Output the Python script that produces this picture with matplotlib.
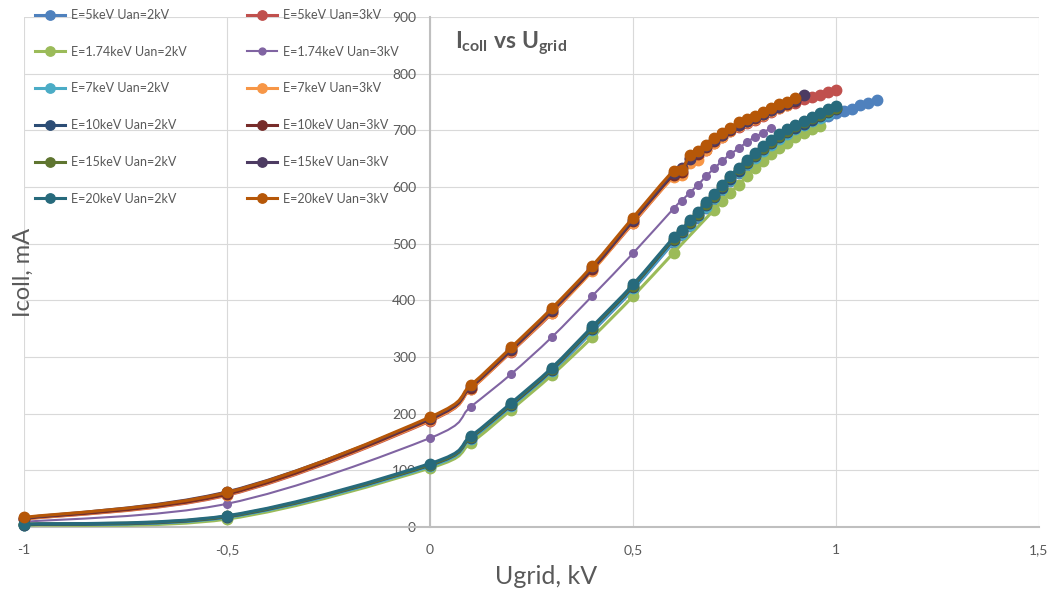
import numpy as np
import matplotlib

matplotlib.use("Agg")
import matplotlib.pyplot as plt
from matplotlib.path import Path
from matplotlib.patches import PathPatch
from matplotlib.lines import Line2D

plt.rcParams["font.family"] = ["Lato", "DejaVu Sans"]
plt.rcParams["mathtext.fontset"] = "custom"
plt.rcParams["mathtext.rm"] = "Lato"
plt.rcParams["mathtext.bf"] = "Lato:bold"

TEXT = "#595959"

# x positions (grid voltage, kV)
X_HEAD = [-1.0, -0.5, 0.0, 0.1, 0.2, 0.3, 0.4, 0.5, 0.6]
X_062_084 = [0.62, 0.64, 0.66, 0.68, 0.70, 0.72, 0.74, 0.76, 0.78, 0.80, 0.82, 0.84]
X_062_088 = X_062_084 + [0.86, 0.88]
X_062_090 = X_062_088 + [0.90]
X_062_092 = X_062_090 + [0.92]
X_062_098 = X_062_092 + [0.94, 0.96, 0.98]
X_062_100 = X_062_098 + [1.00]
X_062_110 = X_062_100 + [1.02, 1.04, 1.06, 1.08, 1.10]
X_070_096 = [0.70, 0.72, 0.74, 0.76, 0.78, 0.80, 0.82, 0.84, 0.86, 0.88, 0.90, 0.92, 0.94, 0.96]

# collector current, mA
Y_5KEV_2KV = [4, 16, 106, 153, 211, 273, 345, 419, 502,
              515, 531, 546, 563, 578, 594, 610, 624, 638, 650, 662, 673, 683, 692,
              700, 707, 714, 720, 726, 730, 735, 738, 744, 749, 754]
Y_5KEV_3KV = [14, 56, 187, 243, 309, 377, 453, 536, 619,
              625, 645, 655, 666, 678, 688, 698, 706, 713, 719, 726, 733, 739, 744,
              749, 755, 759, 763, 767, 772]
Y_174KEV_2KV = [3, 14, 104, 148, 207, 268, 335, 407, 484,
                560, 576, 590, 604, 619, 633, 646, 658, 668, 678, 688, 695, 702, 708]
Y_174KEV_3KV = [9, 41, 157, 212, 270, 335, 408, 483, 562,
                576, 590, 604, 619, 633, 646, 658, 668, 679, 688, 696, 704]
Y_7KEV_2KV = [4, 17, 107, 155, 213, 275, 347, 421, 504,
              517, 533, 548, 565, 580, 596, 612, 626, 640, 652, 664, 675, 685, 694,
              702, 709, 716, 722, 729]
Y_7KEV_3KV = [14, 57, 188, 243, 310, 378, 452, 537, 618,
              622, 642, 648, 666, 678, 688, 698, 708, 714, 720, 727, 734, 740, 744]
Y_10KEV_2KV = [4, 18, 109, 157, 215, 277, 350, 424, 507,
               520, 536, 551, 568, 583, 599, 615, 629, 643, 655, 667, 678, 688, 697,
               705, 712, 719, 725, 732, 738]
Y_10KEV_3KV = [15, 58, 190, 246, 312, 381, 455, 540, 622,
               627, 651, 659, 670, 682, 691, 701, 710, 716, 722, 728, 736, 742, 746, 752]
Y_15KEV_2KV = [5, 19, 110, 158, 217, 279, 352, 426, 509,
               522, 538, 553, 570, 585, 601, 617, 631, 645, 657, 669, 680, 690, 699,
               707, 714, 721, 727, 734, 740]
Y_15KEV_3KV = [16, 62, 192, 248, 314, 383, 458, 542, 625,
               634, 650, 661, 672, 683, 692, 702, 710, 717, 723, 729, 736, 742, 748,
               753, 763]
Y_20KEV_2KV = [5, 20, 112, 160, 219, 281, 354, 428, 511,
               525, 541, 556, 573, 588, 604, 620, 634, 648, 660, 672, 683, 693, 702,
               710, 717, 724, 730, 737, 743]
Y_20KEV_3KV = [17, 61, 194, 250, 317, 386, 461, 546, 629,
               630, 656, 663, 674, 686, 695, 705, 714, 720, 726, 732, 740, 746, 750, 757]

# (label, x, y, colour, linewidth, markersize), in Excel legend order
SERIES = [
    ("E=5keV Uan=2kV", X_HEAD + X_062_110, Y_5KEV_2KV, "#4F81BD", 2.2, 7.5),
    ("E=5keV Uan=3kV", X_HEAD + X_062_100, Y_5KEV_3KV, "#C0504D", 2.2, 7.5),
    ("E=1.74keV Uan=2kV", X_HEAD + X_070_096, Y_174KEV_2KV, "#9BBB59", 2.2, 7.5),
    ("E=1.74keV Uan=3kV", X_HEAD + X_062_084, Y_174KEV_3KV, "#8064A2", 1.5, 5.5),
    ("E=7keV Uan=2kV", X_HEAD + X_062_098, Y_7KEV_2KV, "#4BACC6", 2.2, 7.5),
    ("E=7keV Uan=3kV", X_HEAD + X_062_088, Y_7KEV_3KV, "#F79646", 2.2, 7.5),
    ("E=10keV Uan=2kV", X_HEAD + X_062_100, Y_10KEV_2KV, "#2C4D75", 2.2, 7.5),
    ("E=10keV Uan=3kV", X_HEAD + X_062_090, Y_10KEV_3KV, "#772C2A", 2.2, 7.5),
    ("E=15keV Uan=2kV", X_HEAD + X_062_100, Y_15KEV_2KV, "#5F7530", 2.2, 7.5),
    ("E=15keV Uan=3kV", X_HEAD + X_062_092, Y_15KEV_3KV, "#4D3B62", 2.2, 7.5),
    ("E=20keV Uan=2kV", X_HEAD + X_062_100, Y_20KEV_2KV, "#276A7C", 2.2, 7.5),
    ("E=20keV Uan=3kV", X_HEAD + X_062_090, Y_20KEV_3KV, "#B65708", 2.2, 7.5),
]


def smooth_path(x, y):
    """Catmull-Rom style cubic Bezier through the points (Excel 'smoothed line')."""
    pts = np.column_stack([x, y]).astype(float)
    n = len(pts)
    verts = [pts[0]]
    codes = [Path.MOVETO]
    for i in range(n - 1):
        p0 = pts[i - 1] if i > 0 else pts[i]
        p1, p2 = pts[i], pts[i + 1]
        p3 = pts[i + 2] if i + 2 < n else pts[i + 1]
        verts += [p1 + (p2 - p0) / 6, p2 - (p3 - p1) / 6, p2]
        codes += [Path.CURVE4] * 3
    return Path(verts, codes)


fig = plt.figure(figsize=(10.5, 5.91), dpi=100)
ax = fig.add_axes([24 / 1050, 1 - 527 / 591, (1039 - 24) / 1050, (527 - 17) / 591])
ax.set_xlim(-1, 1.5)
ax.set_ylim(0, 900)

handles = []
for k, (label, x, y, color, lw, ms) in enumerate(SERIES):
    z = 3 + k * 0.1
    ax.add_patch(PathPatch(smooth_path(x, y), fill=False, edgecolor=color, lw=lw,
                           zorder=z, capstyle="round", joinstyle="round"))
    ax.plot(x, y, ls="none", marker="o", ms=ms, color=color, mec=color,
            zorder=z + 0.05, clip_on=False)
    handles.append(Line2D([], [], color=color, lw=lw, marker="o", ms=ms * 0.9,
                          label=label))

ax.set_xticks([-1, -0.5, 0, 0.5, 1, 1.5])
ax.set_xticklabels(["-1", "-0,5", "0", "0,5", "1", "1,5"])
ax.set_yticks(range(0, 901, 100))
ax.grid(True, color="#D9D9D9", lw=0.8)
ax.set_axisbelow(True)
for side in ("top", "right"):
    ax.spines[side].set_visible(False)
ax.spines["left"].set_position(("data", 0))
ax.spines["left"].set_color("#BFBFBF")
ax.spines["left"].set_linewidth(1.5)
ax.spines["bottom"].set_color("#BFBFBF")
ax.spines["bottom"].set_linewidth(1.5)
ax.tick_params(axis="both", length=0, labelsize=10, labelcolor=TEXT)
ax.tick_params(axis="y", pad=10)
ax.tick_params(axis="x", pad=12)

# two legend columns: 2 kV on the left, 3 kV on the right
for col, x0 in ((0, 35), (1, 247)):
    leg = fig.legend(handles=handles[col::2], loc="upper left",
                     bbox_to_anchor=(x0 / 1050, 1 - 9 / 591), frameon=False,
                     fontsize=9, labelcolor=TEXT, handlelength=2.4,
                     handletextpad=0.45, labelspacing=1.98, borderpad=0,
                     borderaxespad=0)

fig.text(455 / 1050, 1 - 43 / 591,
         r"$\mathbf{I_{coll}}$ $\mathbf{vs}$ $\mathbf{U_{grid}}$",
         ha="left", va="center", fontsize=16.5, color=TEXT)
fig.text(23 / 1050, 1 - 272 / 591, "Icoll, mA", rotation=90, ha="center",
         va="center", fontsize=17, color=TEXT)
fig.text(546 / 1050, 1 - 577 / 591, "Ugrid, kV", ha="center", va="center",
         fontsize=18, color=TEXT)

fig.savefig("out.png", dpi=100)
